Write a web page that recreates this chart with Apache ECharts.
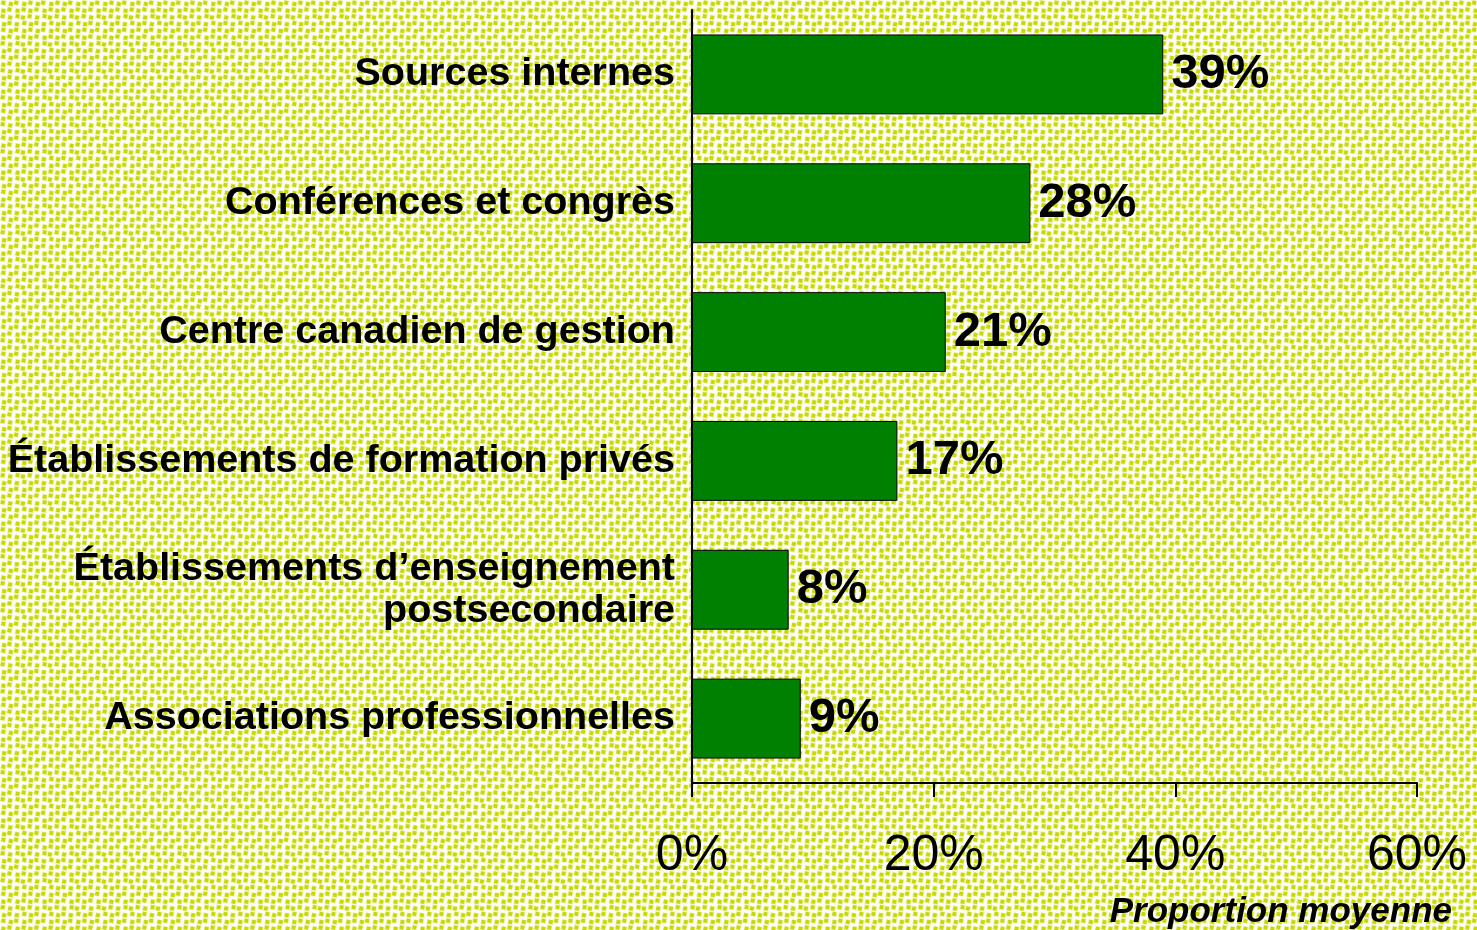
<!DOCTYPE html>
<html>
<head>
<meta charset="utf-8">
<title>Proportion moyenne par source de formation</title>
<script src="https://cdn.jsdelivr.net/npm/echarts@6/dist/echarts.min.js"></script>
<style>
  html, body { margin: 0; padding: 0; width: 1477px; height: 930px; overflow: hidden; background: #ffffff; }
  #chart { width: 1477px; height: 930px; }
</style>
</head>
<body>
<div id="chart"></div>
<script>
// Categories (top to bottom) and their average share, in percent
const categories = [
  'Sources internes',
  'Conférences et congrès',
  'Centre canadien de gestion',
  'Établissements de formation privés',
  'Établissements d\u2019enseignement\npostsecondaire',
  'Associations professionnelles'
];
const values = [39, 28, 21, 17, 8, 9];

// Value axis settings
const axisMin = 0;
const axisMax = 60;
const axisStep = 20;

// Dotted yellow-green backdrop: small tilted squares on white
function makeDotTile() {
  const size = 27;
  const c = document.createElement('canvas');
  c.width = size; c.height = size;
  const ctx = c.getContext('2d');
  ctx.fillStyle = '#ffffff';
  ctx.fillRect(0, 0, size, size);
  const step = size / 4;
  const jitter = [0, 1, -1, 1, 0, -1, 1, 0, -1, 0, 1, -1, 1, -1, 0, 1];
  for (let r = 0; r < 4; r++) {
    for (let col = 0; col < 4; col++) {
      const j = jitter[r * 4 + col] * 0.7;
      const cx = col * step + step / 2 + j;
      const cy = r * step + step / 2 + ((col + r) % 2 ? 1 : -1) * 0.6;
      for (const dx of [-size, 0, size]) {
        for (const dy of [-size, 0, size]) {
          ctx.save();
          ctx.translate(cx + dx, cy + dy);
          ctx.rotate(0.22);
          ctx.fillStyle = '#eef4b6';
          ctx.fillRect(-2.7, -2.7, 5.4, 5.4);
          ctx.fillStyle = '#c9d800';
          ctx.fillRect(-1.9, -1.9, 3.8, 3.8);
          ctx.restore();
        }
      }
    }
  }
  return c;
}

const chart = echarts.init(document.getElementById('chart'), null, { renderer: 'canvas' });

chart.setOption({
  backgroundColor: { image: makeDotTile(), repeat: 'repeat' },
  animation: false,
  grid: { left: 692, right: 60, top: 10, bottom: 147, containLabel: false },
  xAxis: {
    type: 'value',
    min: axisMin,
    max: axisMax,
    interval: axisStep,
    name: 'Proportion moyenne',
    nameLocation: 'end',
    nameGap: 35,
    nameTextStyle: {
      fontFamily: 'Liberation Sans, Arial, sans-serif',
      fontSize: 35,
      fontWeight: 'bold',
      fontStyle: 'italic',
      color: '#000',
      align: 'right',
      verticalAlign: 'top',
      padding: [112, 0, 0, 0]
    },
    axisLine: { show: true, lineStyle: { color: '#000', width: 2 } },
    axisTick: { show: true, inside: false, length: 14, lineStyle: { color: '#000', width: 2 } },
    splitLine: { show: false },
    axisLabel: {
      formatter: '{value}%',
      fontFamily: 'Liberation Sans, Arial, sans-serif',
      fontSize: 50,
      color: '#000',
      margin: 48
    }
  },
  yAxis: {
    type: 'category',
    inverse: true,
    data: categories,
    axisLine: { show: true, lineStyle: { color: '#000', width: 2 } },
    axisTick: { show: false },
    splitLine: { show: false },
    axisLabel: {
      fontFamily: 'Liberation Sans, Arial, sans-serif',
      fontSize: 39.5,
      fontWeight: 'bold',
      color: '#000',
      margin: 17,
      lineHeight: 42,
      align: 'right'
    }
  },
  series: [{
    type: 'bar',
    data: values,
    barCategoryGap: '38%',
    itemStyle: { color: '#008000', borderColor: '#000', borderWidth: 1 },
    label: {
      show: true,
      position: 'right',
      distance: 8,
      formatter: '{c}%',
      fontFamily: 'Liberation Sans, Arial, sans-serif',
      fontSize: 49,
      fontWeight: 'bold',
      color: '#000'
    }
  }]
});
</script>
</body>
</html>
